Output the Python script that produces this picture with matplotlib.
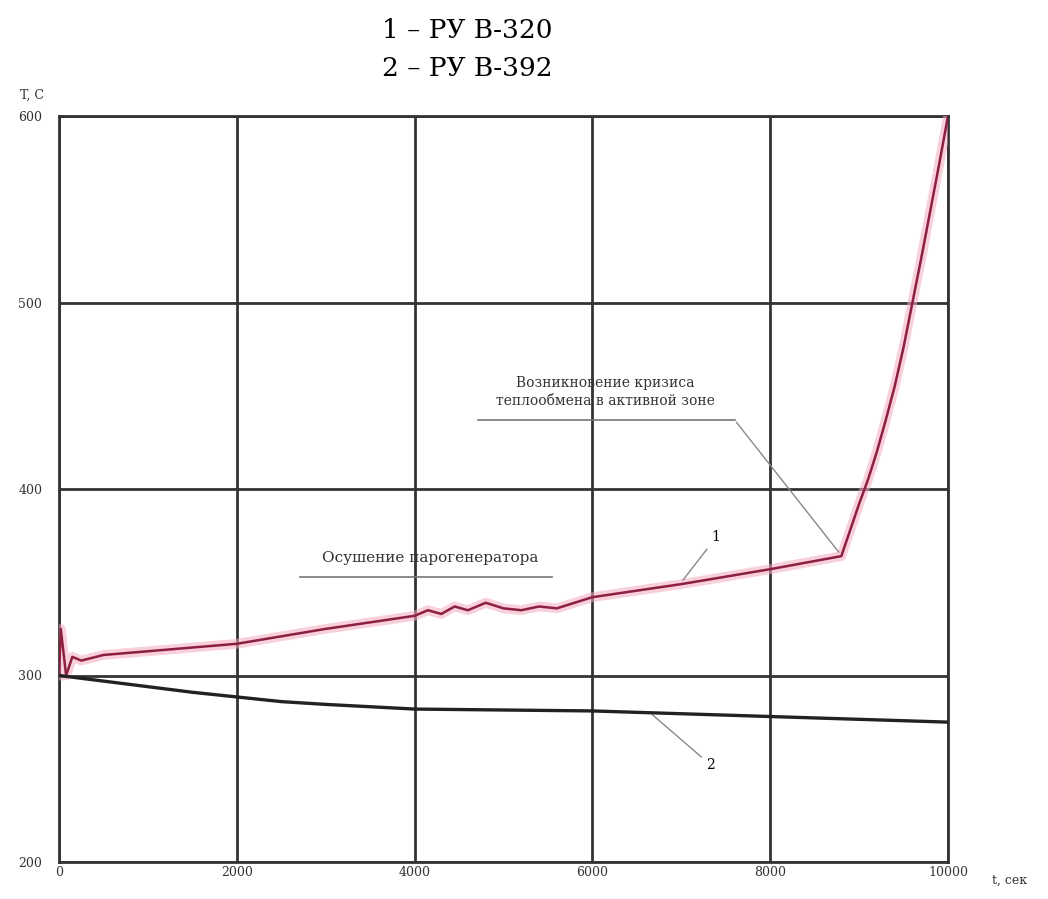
import numpy as np
import matplotlib.pyplot as plt

# кривая 1 - РУ В-320
t1 = [0, 20, 80, 150, 250, 500, 1000, 1500, 2000, 3000, 4000, 4150, 4300, 4450,
      4600, 4800, 5000, 5200, 5400, 5600, 6000, 7000, 8000, 8800, 8900, 9000,
      9100, 9200, 9300, 9400, 9500, 9600, 9700, 9800, 9900, 10000]
T1 = [300, 325, 300, 310, 308, 311, 313, 315, 317, 325, 332, 335, 333, 337,
      335, 339, 336, 335, 337, 336, 342, 349, 357, 364, 378, 392,
      405, 420, 437, 455, 476, 500, 524, 549, 574, 600]

# кривая 2 - РУ В-392
t2 = [0, 500, 1000, 1500, 2000, 2500, 3000, 4000, 5000, 6000, 7000, 8000, 9000, 10000]
T2 = [300, 297, 294, 291, 288.5, 286, 284.5, 282, 281.5, 281, 279.5, 278, 276.5, 275]

xticks = [0, 2000, 4000, 6000, 8000, 10000]
yticks = [200, 300, 400, 500, 600]

serif = 'DejaVu Serif'

fig = plt.figure(figsize=(10.48, 8.99), dpi=100)
ax = fig.add_axes([59/1048, 37/899, 889/1048, 746/899])

ax.set_xlim(0, 10000)
ax.set_ylim(200, 600)
ax.set_xticks(xticks)
ax.set_yticks(yticks)
ax.set_xticklabels([str(v) for v in xticks], fontsize=9, family=serif, color='#333')
ax.set_yticklabels([str(v) for v in yticks], fontsize=9, family=serif, color='#333')
ax.tick_params(axis='x', length=0, pad=3)
ax.tick_params(axis='y', length=0, pad=12)
ax.grid(True, color='#333333', linewidth=2.0)
for s in ax.spines.values():
    s.set_color('#333333')
    s.set_linewidth(2.0)

# кривые
ax.plot(t1, T1, color='#f5a8c0', linewidth=7, alpha=0.55, solid_joinstyle='round', zorder=3)
ax.plot(t1, T1, color='#8c2040', linewidth=1.8, zorder=4)
ax.plot(t2, T2, color='#222222', linewidth=2.4, zorder=4)

lead = dict(arrowstyle='-', color='#888888', linewidth=1)

ax.text(6150, 452, 'Возникновение кризиса\nтеплообмена в активной зоне',
        ha='center', va='center', fontsize=10, family=serif, color='#333',
        linespacing=1.3)
ax.plot([4710, 7600], [437, 437], color='#777777', linewidth=1.2)
ax.annotate('', xy=(8790, 365), xytext=(7600, 437), arrowprops=lead)

ax.text(4170, 363, 'Осушение парогенератора', ha='center', va='center',
        fontsize=11, family=serif, color='#333')
ax.plot([2710, 5550], [353, 353], color='#777777', linewidth=1.2)

ax.annotate('1', xy=(7000, 350), xytext=(7390, 374), fontsize=10, family=serif,
            ha='center', va='center', arrowprops=lead)
ax.annotate('2', xy=(6650, 280), xytext=(7330, 252), fontsize=10, family=serif,
            ha='center', va='center', arrowprops=lead)

fig.text(20/1048, 1 - 95/899, 'T, C', fontsize=9, family=serif, color='#333',
         va='center')
fig.text(992/1048, 1 - 880/899, 't, сек', fontsize=9, family=serif, color='#333',
         va='center')

fig.text(467/1048, 1 - 30/899, '1 – РУ В-320', fontsize=19, family=serif,
         ha='center', va='center')
fig.text(467/1048, 1 - 68/899, '2 – РУ В-392', fontsize=19, family=serif,
         ha='center', va='center')

fig.savefig('out.png', dpi=100)
